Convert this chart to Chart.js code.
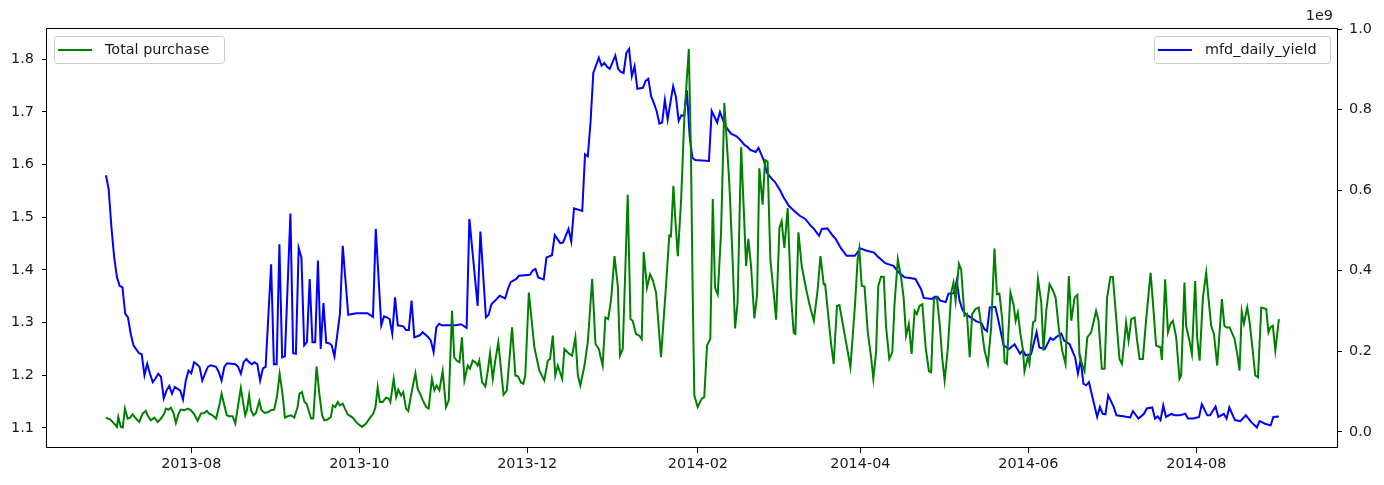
<!DOCTYPE html>
<html>
<head>
<meta charset="utf-8">
<script src="https://cdn.jsdelivr.net/npm/chart.js@4.4.0/dist/chart.umd.min.js"></script>
<style>
    html, body { margin: 0; padding: 0; background: #fff; }
    #wrap { position: relative; width: 1384px; height: 485px; }
</style>
</head>
<body>
<div id="wrap"><canvas id="chart"></canvas></div>
<script>
// days counted from 2013-07-01
const tickDays = [31, 92, 153, 215, 274, 335, 396];
const tickLabels = ['2013-08', '2013-10', '2013-12', '2014-02', '2014-04', '2014-06', '2014-08'];
const yieldTicks = [1.1, 1.2, 1.3, 1.4, 1.5, 1.6, 1.7, 1.8];
const purchaseTicks = [0, 0.2e9, 0.4e9, 0.6e9, 0.8e9, 1.0e9];

// mfd_daily_yield (left axis)
const yieldDays = [
    0, 1, 2, 3, 4, 5, 6, 7, 8, 9,
    10, 12, 13, 14, 15, 16, 17, 18, 19, 20,
    21, 22, 23, 24, 25, 27, 28, 29, 30, 31,
    32, 33, 34, 35, 36, 37, 38, 40, 41, 42,
    43, 44, 47, 48, 49, 50, 51, 52, 53, 54,
    55, 56, 57, 58, 60, 61, 62, 63, 64, 65,
    67, 68, 69, 70, 71, 72, 73, 74, 75, 76,
    77, 78, 79, 80, 81, 82, 83, 85, 86, 88,
    91, 95, 97, 98, 100, 101, 102, 103, 104, 105,
    106, 108, 109, 110, 111, 112, 114, 115, 117, 118,
    119, 120, 121, 122, 127, 129, 131, 132, 135, 136,
    138, 139, 140, 141, 143, 145, 146, 147, 149, 150,
    154, 155, 156, 157, 159, 160, 162, 163, 165, 166,
    168, 169, 170, 173, 174, 175, 176, 177, 179, 180,
    181, 182, 183, 185, 186, 187, 188, 189, 190, 191,
    192, 193, 195, 196, 197, 198, 199, 200, 201, 202,
    203, 204, 206, 207, 208, 209, 210, 211, 212, 213,
    214, 219, 220, 222, 223, 224, 225, 227, 229, 230,
    232, 233, 234, 236, 237, 239, 240, 242, 243, 245,
    246, 248, 250, 252, 254, 256, 257, 259, 260, 262,
    264, 265, 267, 269, 272, 274, 276, 279, 280, 283,
    286, 288, 290, 292, 294, 296, 297, 300, 301, 302,
    303, 305, 306, 308, 309, 310, 311, 312, 314, 316,
    318, 319, 320, 321, 323, 324, 325, 326, 328, 330,
    332, 333, 334, 336, 338, 339, 341, 343, 344, 345,
    347, 348, 350, 352, 353, 354, 355, 356, 357, 358,
    360, 361, 362, 363, 364, 366, 367, 370, 372, 373,
    375, 377, 378, 380, 381, 382, 383, 384, 385, 387,
    388, 390, 392, 393, 395, 397, 398, 400, 401, 403,
    404, 406, 407, 408, 410, 412, 414, 416, 418, 419,
    421, 423, 424, 426
];
const yieldValues = [
    1.580, 1.553, 1.481, 1.424, 1.386, 1.370, 1.367, 1.317, 1.310, 1.279,
    1.257, 1.242, 1.240, 1.200, 1.222, 1.203, 1.187, 1.194, 1.203, 1.197,
    1.156, 1.171, 1.180, 1.165, 1.178, 1.171, 1.154, 1.190, 1.209, 1.204,
    1.225, 1.221, 1.216, 1.190, 1.203, 1.216, 1.219, 1.216, 1.206, 1.190,
    1.216, 1.223, 1.221, 1.216, 1.203, 1.225, 1.231, 1.225, 1.221, 1.225,
    1.221, 1.190, 1.213, 1.216, 1.411, 1.221, 1.221, 1.449, 1.234, 1.236,
    1.507, 1.242, 1.241, 1.442, 1.424, 1.257, 1.263, 1.383, 1.263, 1.263,
    1.418, 1.250, 1.337, 1.262, 1.261, 1.257, 1.236, 1.317, 1.446, 1.315,
    1.318, 1.318, 1.311, 1.478, 1.295, 1.312, 1.310, 1.307, 1.279, 1.348,
    1.295, 1.293, 1.286, 1.286, 1.342, 1.272, 1.276, 1.282, 1.273, 1.266,
    1.244, 1.291, 1.298, 1.295, 1.295, 1.297, 1.290, 1.497, 1.332, 1.473,
    1.310, 1.315, 1.335, 1.340, 1.351, 1.346, 1.364, 1.377, 1.383, 1.389,
    1.391, 1.399, 1.402, 1.386, 1.382, 1.424, 1.428, 1.466, 1.451, 1.452,
    1.478, 1.454, 1.517, 1.512, 1.620, 1.616, 1.680, 1.774, 1.803, 1.788,
    1.793, 1.786, 1.782, 1.807, 1.782, 1.776, 1.774, 1.812, 1.820, 1.768,
    1.787, 1.744, 1.746, 1.759, 1.763, 1.730, 1.717, 1.702, 1.678, 1.680,
    1.723, 1.686, 1.749, 1.729, 1.683, 1.694, 1.692, 1.741, 1.654, 1.613,
    1.609, 1.607, 1.702, 1.680, 1.700, 1.686, 1.673, 1.659, 1.654, 1.649,
    1.637, 1.634, 1.628, 1.624, 1.632, 1.607, 1.585, 1.572, 1.567, 1.550,
    1.539, 1.522, 1.512, 1.503, 1.497, 1.484, 1.479, 1.465, 1.478, 1.479,
    1.465, 1.459, 1.441, 1.427, 1.427, 1.441, 1.437, 1.433, 1.427, 1.413,
    1.408, 1.395, 1.386, 1.385, 1.383, 1.364, 1.347, 1.345, 1.349, 1.349,
    1.342, 1.339, 1.355, 1.356, 1.380, 1.342, 1.326, 1.317, 1.310, 1.303,
    1.299, 1.288, 1.284, 1.329, 1.330, 1.307, 1.282, 1.257, 1.250, 1.259,
    1.241, 1.248, 1.238, 1.240, 1.282, 1.253, 1.250, 1.271, 1.267, 1.272,
    1.279, 1.266, 1.259, 1.234, 1.203, 1.230, 1.184, 1.181, 1.187, 1.165,
    1.121, 1.140, 1.127, 1.126, 1.162, 1.140, 1.124, 1.122, 1.120, 1.132,
    1.118, 1.127, 1.137, 1.139, 1.118, 1.122, 1.115, 1.143, 1.121, 1.127,
    1.124, 1.124, 1.127, 1.118, 1.118, 1.121, 1.145, 1.124, 1.124, 1.141,
    1.121, 1.127, 1.118, 1.139, 1.115, 1.113, 1.124, 1.111, 1.101, 1.113,
    1.108, 1.105, 1.121, 1.122
];

// Total purchase (right axis), millions
const purchaseDays = [
    0, 1.6, 3, 4, 4.5, 5.4, 6.1, 6.9, 7.9, 8.8,
    9.7, 10.9, 12.1, 13.3, 14.5, 15.1, 16.3, 17.6, 18.8, 20,
    21.2, 21.8, 22.8, 23.6, 24.6, 25.4, 26.4, 27.2, 28.5, 29.7,
    30.9, 32.1, 33.3, 34.5, 35.7, 36.7, 37.5, 38.7, 40, 41.2,
    42, 43, 43.9, 44.8, 46, 47, 48.1, 49, 50, 50.6,
    51.2, 52, 52.7, 53.6, 54.5, 55.7, 56.5, 57.7, 59, 59.9,
    61.1, 62.1, 63.1, 64.2, 65, 66, 67.2, 68.4, 69.6, 70.3,
    71.2, 72.1, 72.9, 73.6, 74.5, 75.3, 76.5, 77.5, 78.5, 79.3,
    80.5, 81.7, 82.4, 83.3, 84.2, 85, 86, 86.8, 87.8, 89.6,
    91.4, 93, 94.5, 95.7, 97.1, 97.9, 98.7, 99.5, 100.5, 101.7,
    102.7, 103.3, 104.5, 105.4, 106.2, 107.2, 108, 109, 109.8, 110.8,
    112.4, 113.2, 114.1, 115.1, 116.3, 117.2, 118.4, 119.3, 120.1, 121.1,
    122.3, 123.5, 124.5, 125.7, 126.5, 127.4, 128.4, 129.3, 130.2, 131.4,
    132.2, 133.2, 134.2, 135, 135.6, 136.6, 137.8, 138.7, 139.5, 140.5,
    141.4, 142.5, 144.4, 145.6, 147.5, 148.7, 149.6, 150.8, 151.6, 152.3,
    153.6, 155.6, 157.4, 159.2, 160.5, 161.3, 162.3, 163.2, 164.1, 164.7,
    165.7, 166.5, 168.3, 169.3, 170.5, 171.4, 172.3, 173.8, 175, 176.6,
    177.8, 179, 180.4, 181.4, 182.4, 183.5, 184.7, 185.9, 186.7, 187.7,
    189.5, 190.5, 191.3, 192.5, 193.7, 194.6, 195.3, 196.5, 197.6, 198.6,
    199.8, 201.6, 203.4, 204.6, 205.2, 206.1, 206.8, 207.7, 208.9, 210.1,
    211.7, 212.5, 213.1, 213.7, 214.9, 216.4, 217.3, 218.3, 219.5, 220.4,
    221.2, 222.2, 223.4, 224.6, 226.4, 227.6, 228.5, 229.4, 230.7, 231.6,
    232.5, 233.3, 234.3, 235.5, 236.5, 237.3, 238.5, 239.4, 240.3, 241.3,
    242.5, 243.4, 244.6, 245.4, 246.4, 247.6, 248.8, 249.8, 250.4, 251.5,
    252.7, 254.3, 255.5, 257.1, 258.5, 259.5, 260.7, 261.2, 262.1, 263.3,
    264.3, 265.5, 266.4, 267.4, 268.8, 270.4, 272.1, 273, 273.6, 274.5,
    275.5, 276.7, 277.9, 278.7, 279.7, 280.5, 281.5, 282.5, 283.3, 284.5,
    285.6, 286.4, 287.6, 288.8, 289.7, 290.6, 291.6, 292.6, 293.7, 294.5,
    295.5, 296.5, 297.7, 298.9, 299.7, 300.7, 301.8, 302.8, 303.7, 304.6,
    305.8, 307, 307.8, 308.6, 309.8, 310.6, 311.8, 312.7, 313.7, 314.6,
    315.8, 317, 318.3, 319.1, 320.3, 321.5, 322.7, 323.6, 324.5, 325.5,
    326.4, 327.2, 328.5, 329.6, 330.4, 331.2, 332.1, 333, 333.6, 334.8,
    335.4, 336.7, 337.5, 338.5, 339.7, 340.5, 341.5, 342.7, 343.9, 344.9,
    346.1, 347.3, 348.5, 349.7, 350.6, 351.8, 352.8, 353.6, 355.4, 356.4,
    357.8, 358.8, 359.6, 360.5, 361.7, 362.7, 363.6, 364.8, 365.7, 366.9,
    368.1, 369, 369.9, 370.5, 371.4, 372.4, 373.6, 374.5, 375.4, 376.6,
    377.8, 379.4, 380.2, 381.4, 383, 383.5, 384.7, 385.7, 386.6, 387.5,
    388.7, 389.9, 390.5, 391.7, 392.3, 393.5, 394.4, 395.6, 396.3, 397.2,
    398.4, 399.6, 400.4, 401.4, 402.4, 403.6, 405.3, 406.2, 406.9, 408.1,
    409.9, 410.9, 411.7, 412.5, 413.3, 414.5, 415.3, 416.5, 417.4, 418.4,
    419.6, 421.4, 422.2, 422.9, 423.8, 424.7, 426
];
const purchaseM = [
    35.5, 30.6, 20.7, 12.4, 37.1, 12.4, 10.8, 57.8, 33.1, 35.5,
    43.7, 33.1, 24.7, 45.4, 51.9, 41.2, 28.9, 35.5, 24.7, 33.1,
    45.4, 57.8, 55.3, 60.2, 45.4, 22.2, 45.4, 55.3, 53.6, 57.8,
    53.6, 43.7, 27.2, 45.4, 46.9, 51.9, 45.4, 41.2, 33.1, 65.9,
    94.8, 65.9, 41.2, 38.8, 38.8, 20.7, 70.1, 108.6, 65.9, 41.2,
    53.6, 90.6, 53.6, 41.2, 46.9, 76.5, 53.6, 46.9, 49.4, 53.6,
    55.3, 86.4, 144.2, 90.6, 35.5, 38.8, 41.2, 35.5, 61.7, 94.8,
    98.8, 74.1, 70.1, 53.6, 33.1, 33.1, 162.2, 94.8, 41.2, 28.9,
    30.6, 37.1, 65.9, 61.7, 74.1, 65.9, 70.1, 57.8, 43.7, 35.5,
    20.7, 12.4, 20.7, 33.1, 45.4, 61.7, 111.1, 74.1, 74.1, 84.9,
    82.5, 74.1, 131.8, 86.4, 104.7, 90.6, 98.8, 57.8, 51.9, 90.6,
    145.7, 107.2, 94.8, 78.3, 61.7, 57.8, 131.8, 103, 115.3, 103,
    150.6, 61.7, 78.3, 300.5, 185.2, 177, 172.8, 234.6, 127.7, 164.7,
    156.5, 177, 172.8, 164.7, 177, 123.5, 112.8, 152.3, 195.1, 131.8,
    177, 222.2, 92.3, 103, 259.3, 140, 138.3, 122, 119.5, 140,
    345.7, 209.9, 152.3, 127.7, 177, 181.2, 238.8, 140, 164.7, 152.3,
    131.8, 205.9, 193.6, 189.4, 234.6, 140, 115.3, 164.7, 222.2, 380.2,
    218.2, 205.9, 164.7, 284, 280, 329.4, 436.3, 362.2, 189.4, 205.9,
    588.6, 280, 275.8, 243, 238.8, 230.6, 446.2, 358, 391.1, 377,
    345.7, 185.2, 362.2, 487.4, 485.7, 610.8, 526.9, 436.3, 576.3, 786.2,
    950.6, 675, 345.7, 90.6, 61.7, 82.5, 86.4, 214.1, 230.6, 577.8,
    358, 341.7, 493.8, 816.5, 617.3, 428.1, 256.8, 321, 706.2, 559.7,
    411.6, 479, 411.6, 281.5, 341.7, 654.3, 564, 675, 670.9, 428.1,
    345.7, 278.3, 506.2, 522.7, 456.8, 555.5, 337.5, 245.4, 243, 495.5,
    411.6, 354.1, 317, 275.8, 354.1, 436.3, 366.4, 366.4, 304.7, 222.2,
    168.9, 312.8, 314.6, 275.8, 222.2, 160.5, 321, 428.1, 454.3, 362.2,
    360.5, 246.9, 185.2, 131.8, 197.5, 362.2, 385.2, 385.2, 263.4, 181.2,
    197.5, 317, 428.1, 382.7, 333.3, 238.8, 267.6, 193.6, 300.5, 292.3,
    312.8, 317, 209.9, 150.6, 148.1, 329.4, 333.3, 267.6, 185.2, 127.7,
    209.9, 345.7, 370.4, 325.2, 417.3, 403.4, 288.1, 292.3, 185.2, 292.3,
    304.7, 308.6, 243, 201.7, 168.9, 259.3, 455.3, 341.7, 343.2, 280,
    172.8, 168.9, 345.7, 317, 275.8, 296.3, 244.4, 205.9, 150.6, 185.2,
    168.9, 271.6, 275.8, 378.8, 321, 201.7, 300.5, 366.4, 351.6, 333.3,
    255.3, 201.7, 168.9, 386.9, 275.8, 333.3, 340, 186.9, 150.6, 234.6,
    246.9, 275.8, 300.5, 275.8, 156.5, 156.5, 333.3, 384.4, 384.4, 284,
    181.2, 168.9, 226.4, 271.6, 226.4, 280, 284, 226.4, 181.2, 181.2,
    280, 395.1, 325.2, 214.1, 209.9, 178.8, 378.8, 246.9, 267.6, 275.8,
    234.6, 131.8, 140, 370.4, 263.4, 226.4, 193.6, 374.6, 234.6, 177,
    333.3, 395.1, 333.3, 263.4, 243, 164.7, 329.4, 263.4, 259.3, 259.3,
    230.6, 191.9, 152.3, 298.8, 269.1, 308.6, 275.8, 201.7, 140, 135.8,
    308.6, 304.7, 246.9, 259.3, 263.4, 201.7, 280
];

const FONT = { family: 'DejaVu Sans', size: 14.4 };
const TEXT = '#1a1a1a';

// the two separate matplotlib-style legends, the axes frame and the offset text
const mplDecor = {
    id: 'mplDecor',
    afterDraw(chart) {
        const ctx = chart.ctx;
        const a = chart.chartArea;
        ctx.save();

        ctx.strokeStyle = '#000';
        ctx.lineWidth = 1;
        ctx.strokeRect(a.left - 0.5, a.top - 0.5, a.right - a.left + 1, a.bottom - a.top);

        ctx.font = FONT.size + 'px "' + FONT.family + '"';
        ctx.fillStyle = TEXT;
        ctx.textAlign = 'right';
        ctx.textBaseline = 'middle';
        ctx.fillText('1e9', a.right - 4, 16);

        function legendBox(x, w, ds) {
            ctx.fillStyle = 'rgba(255,255,255,0.8)';
            ctx.strokeStyle = '#cccccc';
            ctx.lineWidth = 1;
            ctx.beginPath();
            ctx.roundRect(x + 0.5, 36.5, w, 27, 3);
            ctx.fill();
            ctx.stroke();
            ctx.strokeStyle = ds.borderColor;
            ctx.lineWidth = 2;
            ctx.beginPath();
            ctx.moveTo(x + 4, 50);
            ctx.lineTo(x + 38, 50);
            ctx.stroke();
            ctx.fillStyle = TEXT;
            ctx.textAlign = 'left';
            ctx.fillText(ds.label, x + 51, 50);
        }
        legendBox(54, 170, chart.data.datasets[0]);
        legendBox(1154, 176, chart.data.datasets[1]);
        ctx.restore();
    }
};

function axisTicks(values) {
    return function (scale) {
        scale.ticks = values.map(v => ({ value: v }));
    };
}

new Chart(document.getElementById('chart'), {
    type: 'line',
    data: {
        datasets: [
            {
                label: 'Total purchase',
                data: purchaseDays.map((d, i) => ({ x: d, y: purchaseM[i] * 1e6 })),
                borderColor: '#008000',
                borderWidth: 2,
                pointRadius: 0,
                tension: 0,
                yAxisID: 'y1'
            },
            {
                label: 'mfd_daily_yield',
                data: yieldDays.map((d, i) => ({ x: d, y: yieldValues[i] })),
                borderColor: '#0000ff',
                borderWidth: 2,
                pointRadius: 0,
                tension: 0,
                yAxisID: 'y'
            }
        ]
    },
    options: {
        responsive: true,
        maintainAspectRatio: false,
        animation: false,
        layout: { padding: { top: 29, left: 0, right: 0, bottom: 0 } },
        plugins: {
            legend: { display: false },
            tooltip: { enabled: false }
        },
        scales: {
            x: {
                type: 'linear',
                min: -21.4,
                max: 447.1,
                afterBuildTicks: axisTicks(tickDays),
                afterFit: s => { s.height = 37; },
                border: { display: false },
                grid: { drawOnChartArea: false, tickLength: 5, tickColor: '#000' },
                ticks: {
                    autoSkip: false,
                    maxRotation: 0,
                    padding: 3,
                    color: TEXT,
                    font: FONT,
                    callback: v => tickLabels[tickDays.indexOf(v)]
                }
            },
            y: {
                position: 'left',
                min: 1.062,
                max: 1.8576,
                afterBuildTicks: axisTicks(yieldTicks),
                afterFit: s => { s.width = 47; },
                border: { display: false },
                grid: { drawOnChartArea: false, tickLength: 5, tickColor: '#000' },
                ticks: { padding: 8, color: TEXT, font: FONT, callback: v => v.toFixed(1) }
            },
            y1: {
                position: 'right',
                min: -0.04e9,
                max: 1.0e9,
                afterBuildTicks: axisTicks(purchaseTicks),
                afterFit: s => { s.width = 47; },
                border: { display: false },
                grid: { drawOnChartArea: false, tickLength: 5, tickColor: '#000' },
                ticks: { padding: 7, color: TEXT, font: FONT, callback: v => (v / 1e9).toFixed(1) }
            }
        }
    },
    plugins: [mplDecor]
});
</script>
</body>
</html>
